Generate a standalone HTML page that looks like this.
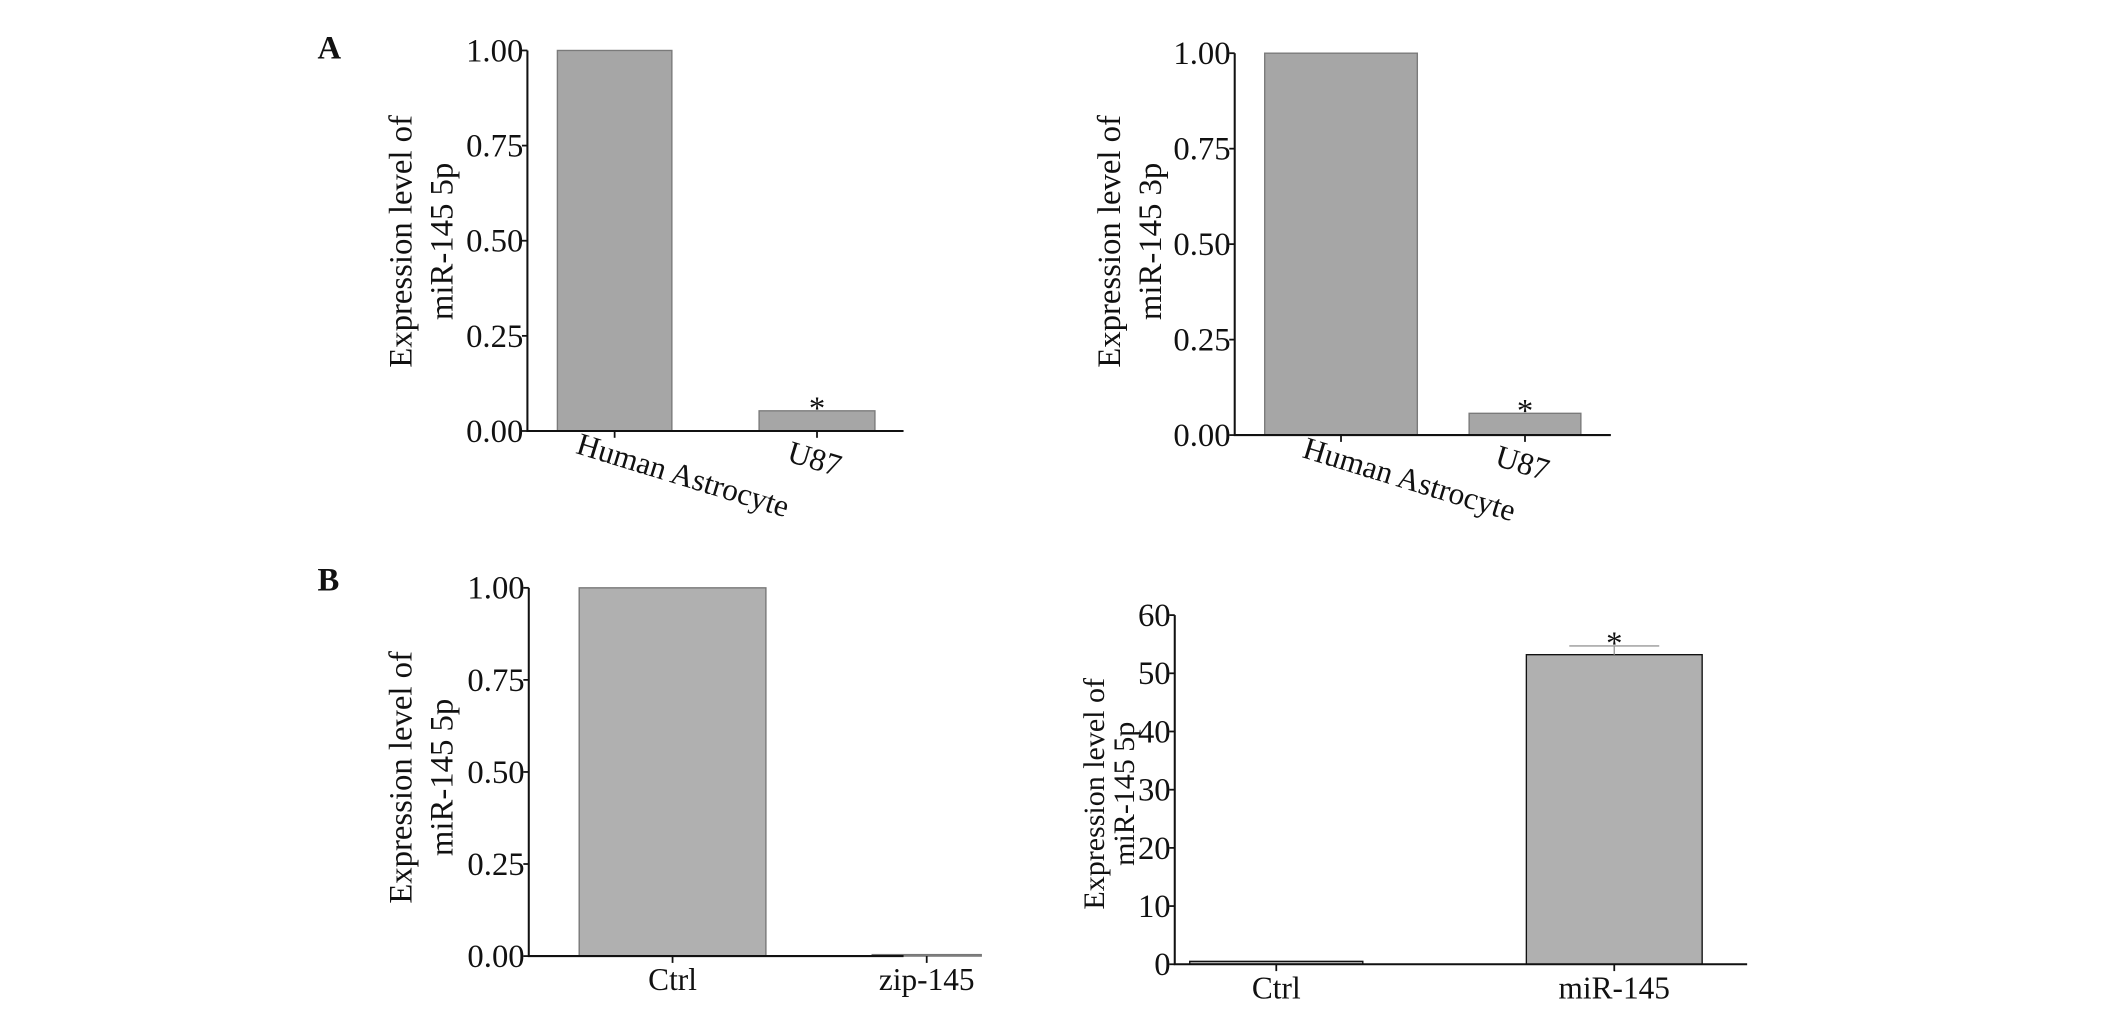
<!DOCTYPE html>
<html><head><meta charset="utf-8"><style>
html,body{margin:0;padding:0;background:#fff;}
svg{display:block;}
text{font-family:"Liberation Serif",serif;fill:#111;}
</style></head><body>
<svg id="fig" width="2126" height="1012" viewBox="0 0 1560 742" preserveAspectRatio="none" xmlns="http://www.w3.org/2000/svg">
<text x="233" y="43" font-size="24" font-weight="bold">A</text>
<text x="233" y="433" font-size="24" font-weight="bold">B</text>
</svg>
<script>
// Panel A1
const a1Categories = ["Human Astrocyte", "U87"];
const a1Values = [1.0, 0.053];
const a1Ticks = ["0.00", "0.25", "0.50", "0.75", "1.00"];
// Panel A2
const a2Categories = ["Human Astrocyte", "U87"];
const a2Values = [1.0, 0.057];
const a2Ticks = ["0.00", "0.25", "0.50", "0.75", "1.00"];
// Panel B1
const b1Categories = ["Ctrl", "zip-145"];
const b1Values = [1.0, 0.004];
const b1Ticks = ["0.00", "0.25", "0.50", "0.75", "1.00"];
// Panel B2
const b2Categories = ["Ctrl", "miR-145"];
const b2Values = [0.5, 53.2];
const b2Errors = [0, 1.5];
const b2Ticks = ["0", "10", "20", "30", "40", "50", "60"];

const NS = "http://www.w3.org/2000/svg";
const svg = document.getElementById("fig");
function mk(tag, attrs, parent) {
  const e = document.createElementNS(NS, tag);
  for (const k in attrs) e.setAttribute(k, attrs[k]);
  (parent || svg).appendChild(e);
  return e;
}

function panel(p) {
  const g = mk("g", {});
  
  
  const maxV = parseFloat(p.ticks[p.ticks.length - 1]);
  const y = v => p.y0 - (v / maxV) * (p.y0 - p.yTop);
  p.values.forEach((v, i) => {
    const bx = p.barX[i];
    const r = mk("rect", {x: bx[0], y: y(v), width: bx[1] - bx[0], height: Math.max(p.y0 - y(v), 0.8),
      fill: p.fill, stroke: p.stroke, "stroke-width": 1}, g);
    
    
    if (p.errors && p.errors[i] > 0) {
      const cx = (bx[0] + bx[1]) / 2;
      const eg = mk("g", {stroke: "#999", "stroke-width": 1}, g);
      
      
      mk("line", {x1: cx, x2: cx, y1: y(v), y2: y(v + p.errors[i])}, eg);
      mk("line", {x1: cx - 33, x2: cx + 33, y1: y(v + p.errors[i]), y2: y(v + p.errors[i])}, eg);
    }
    if (p.star && p.star[i]) {
      const top = p.errors && p.errors[i] > 0 ? y(v + p.errors[i]) : y(v);
      const s = mk("text", {x: (bx[0] + bx[1]) / 2, y: top + 6, "font-size": 24, "text-anchor": "middle"}, g);
      s.textContent = "*";
      
      
    }
  });
  const ax = mk("path", {d: `M${p.x0},${p.yTop} V${p.y0} H${p.xEnd}`, fill: "none", stroke: "#111", "stroke-width": 1.5}, g);
  
  
  p.ticks.forEach(t => {
    const ty = y(parseFloat(t));
    mk("line", {x1: p.x0 - 4, x2: p.x0, y1: ty, y2: ty, stroke: "#111", "stroke-width": 1.3}, g);
    const tl = mk("text", {x: p.x0 - 3, y: ty + 8, "font-size": 24, "text-anchor": "end"}, g);
    tl.textContent = t;
    
    
  });
  p.cats.forEach((c, i) => {
    const cx = (p.barX[i][0] + p.barX[i][1]) / 2;
    mk("line", {x1: cx, x2: cx, y1: p.y0, y2: p.y0 + 5, stroke: "#111", "stroke-width": 1.3}, g);
    let tl;
    if (p.rotate) {
      const lx = cx + (i === 0 ? 50 : -2), ly = p.y0 + (i === 0 ? 40 : 28);
      tl = mk("text", {x: lx, y: ly, "font-size": 23, "text-anchor": "middle",
        transform: `rotate(17 ${lx} ${ly - 7})`}, g);
    } else {
      tl = mk("text", {x: cx, y: p.y0 + 25, "font-size": 23, "text-anchor": "middle"}, g);
    }
    tl.textContent = c;
    
    
  });
  const t = mk("text", {transform: `translate(${p.titleX},${p.titleY}) rotate(-90)`, "font-size": p.tfs, "text-anchor": "middle"}, g);
  
  
  const l1 = mk("tspan", {x: 0, y: 0}, t); l1.textContent = "Expression level of";
  const l2 = mk("tspan", {x: 0, y: p.gap}, t); l2.textContent = p.title2;
}

panel({name: "chart-a-5p", cats: a1Categories, values: a1Values, ticks: a1Ticks, x0: 387, y0: 316, yTop: 37, xEnd: 663,
  barX: [[409, 493], [557, 642]], fill: "#a6a6a6", stroke: "#7a7a7a", star: [false, true], rotate: true,
  titleX: 302, titleY: 177, gap: 30, tfs: 24, title2: "miR-145 5p"});
panel({name: "chart-a-3p", cats: a2Categories, values: a2Values, ticks: a2Ticks, x0: 906, y0: 319, yTop: 39, xEnd: 1182,
  barX: [[928, 1040], [1078, 1160]], fill: "#a6a6a6", stroke: "#7a7a7a", star: [false, true], rotate: true,
  titleX: 822, titleY: 177, gap: 30, tfs: 24, title2: "miR-145 3p"});
panel({name: "chart-b-zip", cats: b1Categories, values: b1Values, ticks: b1Ticks, x0: 388, y0: 701, yTop: 431, xEnd: 663,
  barX: [[425, 562], [640, 720]], fill: "#b0b0b0", stroke: "#777", star: [false, false], rotate: false,
  titleX: 302, titleY: 570, gap: 30, tfs: 24, title2: "miR-145 5p"});
panel({name: "chart-b-mimic", cats: b2Categories, values: b2Values, errors: b2Errors, ticks: b2Ticks, x0: 862, y0: 707, yTop: 451, xEnd: 1282,
  barX: [[873, 1000], [1120, 1249]], fill: "#b0b0b0", stroke: "#111", star: [false, true], rotate: false,
  titleX: 810, titleY: 582, gap: 22, tfs: 22, title2: "miR-145 5p"});
</script>
</body></html>
